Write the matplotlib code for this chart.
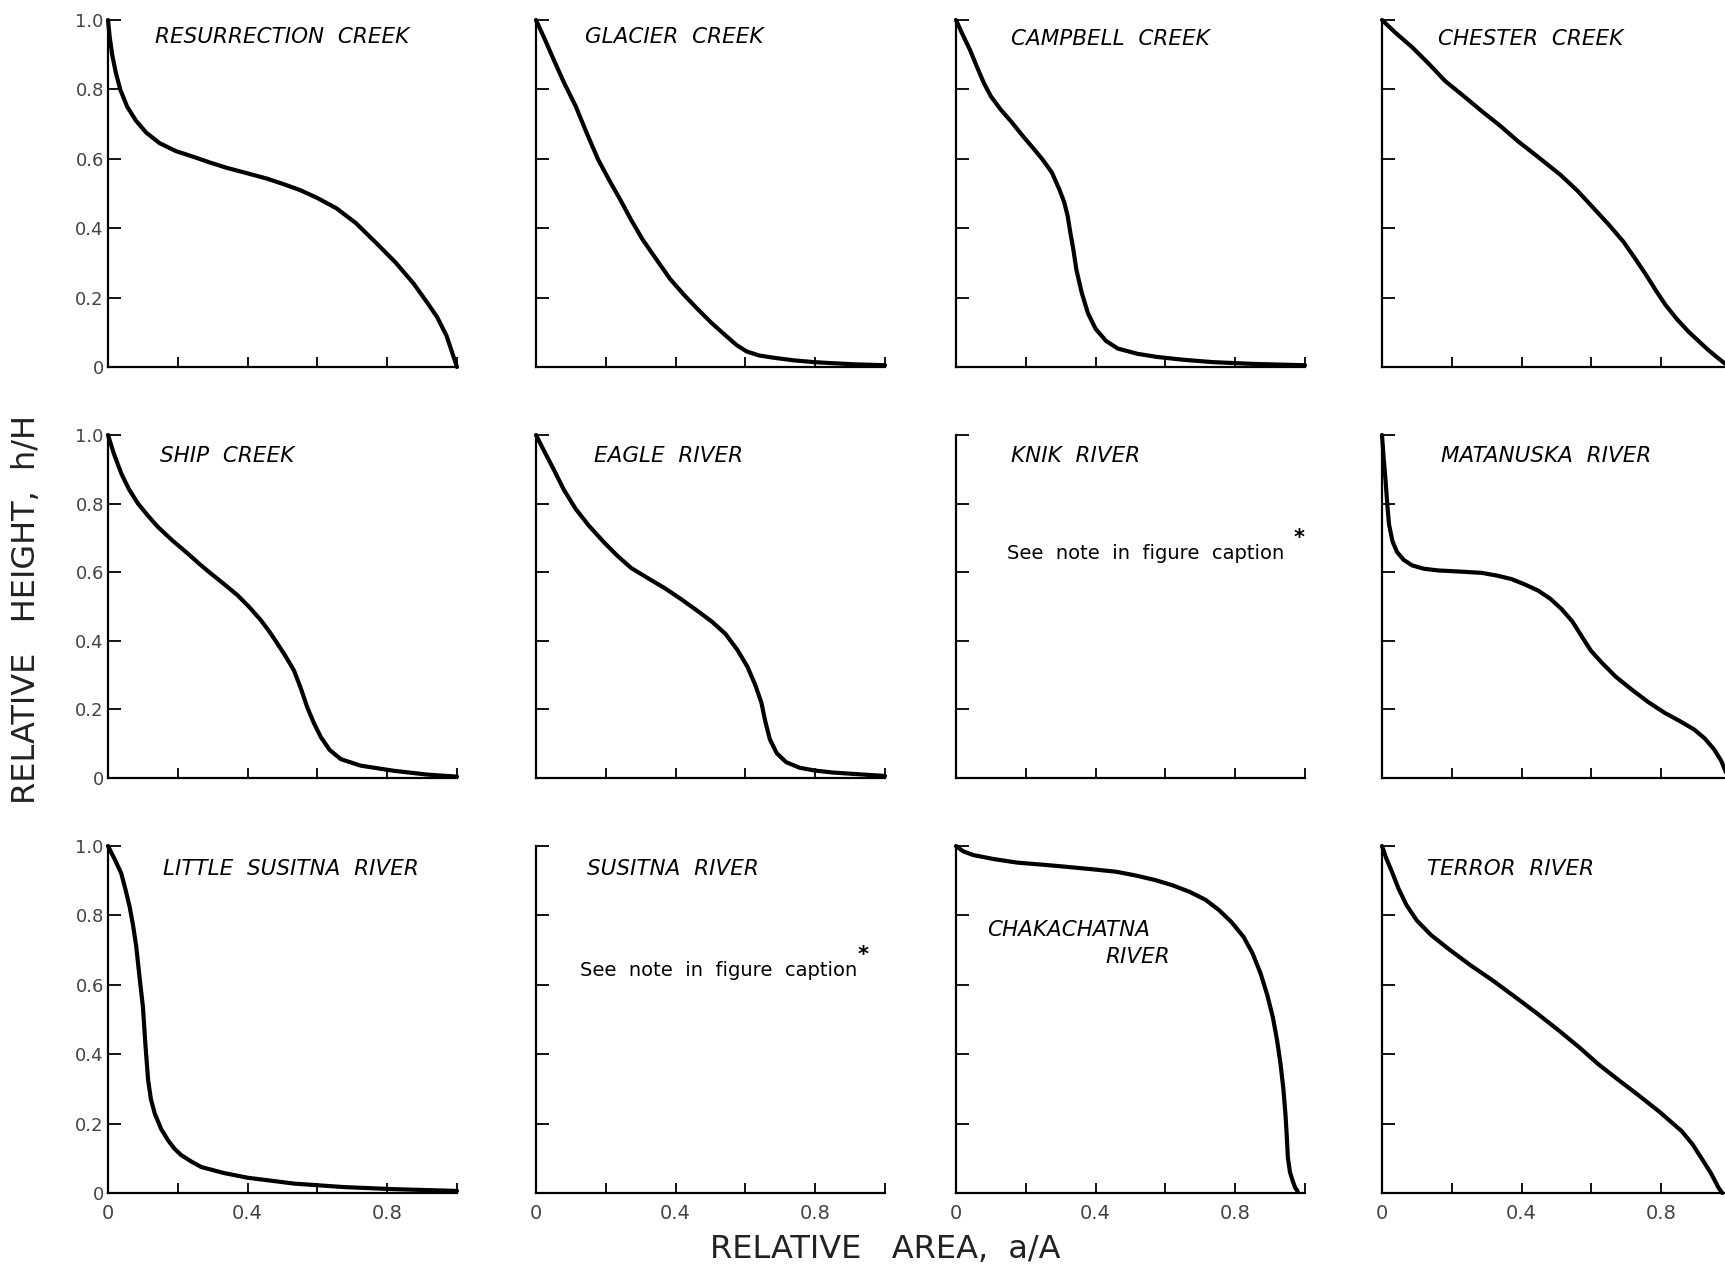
import matplotlib
matplotlib.use("Agg")
import matplotlib.pyplot as plt

# relative area a/A and relative height h/H
resurrection_x = [0, 0.005, 0.012, 0.022, 0.035, 0.055, 0.08, 0.11, 0.148, 0.195, 0.244, 0.29, 0.34, 0.4,
                  0.455, 0.5, 0.55, 0.6, 0.655, 0.71, 0.77, 0.825, 0.876, 0.915, 0.943, 0.97, 0.99, 1.0]
resurrection_y = [1.0, 0.95, 0.9, 0.85, 0.8, 0.75, 0.71, 0.675, 0.645, 0.622, 0.606, 0.59, 0.574, 0.558,
                  0.543, 0.528, 0.51, 0.487, 0.457, 0.415, 0.356, 0.3, 0.24, 0.185, 0.144, 0.09, 0.03, 0.0]

glacier_x = [0, 0.025, 0.051, 0.08, 0.114, 0.145, 0.178, 0.21, 0.241, 0.272, 0.305, 0.345, 0.384, 0.425,
             0.463, 0.503, 0.543, 0.575, 0.603, 0.64, 0.686, 0.74, 0.797, 0.85, 0.908, 1.0]
glacier_y = [1.0, 0.945, 0.885, 0.82, 0.751, 0.675, 0.598, 0.538, 0.483, 0.425, 0.368, 0.31, 0.254, 0.207,
             0.167, 0.127, 0.091, 0.063, 0.045, 0.033, 0.026, 0.019, 0.014, 0.011, 0.008, 0.005]

campbell_x = [0, 0.018, 0.04, 0.06, 0.08, 0.1, 0.128, 0.16, 0.192, 0.22, 0.248, 0.275, 0.296, 0.31, 0.32,
              0.328, 0.336, 0.345, 0.36, 0.378, 0.4, 0.43, 0.464, 0.52, 0.576, 0.65, 0.736, 0.85, 1.0]
campbell_y = [1.0, 0.96, 0.914, 0.865, 0.818, 0.78, 0.742, 0.705, 0.665, 0.632, 0.598, 0.56, 0.512, 0.475,
              0.435, 0.385, 0.34, 0.28, 0.215, 0.155, 0.11, 0.075, 0.053, 0.038, 0.029, 0.021, 0.014, 0.009, 0.005]

chester_x = [0, 0.04, 0.087, 0.135, 0.181, 0.235, 0.285, 0.34, 0.389, 0.45, 0.511, 0.56, 0.606, 0.65, 0.691,
             0.725, 0.757, 0.785, 0.813, 0.845, 0.879, 0.91, 0.936, 0.96, 0.98, 1.0]
chester_y = [1.0, 0.962, 0.921, 0.873, 0.824, 0.78, 0.738, 0.694, 0.651, 0.603, 0.554, 0.508, 0.458, 0.41,
             0.362, 0.313, 0.265, 0.22, 0.178, 0.138, 0.101, 0.072, 0.048, 0.028, 0.012, 0.0]

ship_x = [0, 0.017, 0.038, 0.06, 0.086, 0.115, 0.143, 0.185, 0.229, 0.262, 0.295, 0.333, 0.371, 0.405, 0.438,
          0.463, 0.486, 0.51, 0.533, 0.553, 0.571, 0.59, 0.61, 0.635, 0.667, 0.724, 0.819, 0.914, 1.0]
ship_y = [1.0, 0.945, 0.888, 0.842, 0.8, 0.764, 0.732, 0.692, 0.654, 0.624, 0.596, 0.565, 0.533, 0.498, 0.46,
          0.426, 0.391, 0.353, 0.313, 0.26, 0.206, 0.16, 0.119, 0.082, 0.055, 0.036, 0.021, 0.01, 0.004]

eagle_x = [0, 0.025, 0.051, 0.08, 0.114, 0.152, 0.194, 0.233, 0.273, 0.32, 0.368, 0.415, 0.463, 0.505, 0.543,
           0.578, 0.606, 0.628, 0.646, 0.657, 0.67, 0.69, 0.717, 0.755, 0.797, 0.85, 0.908, 1.0]
eagle_y = [1.0, 0.95, 0.899, 0.84, 0.784, 0.735, 0.688, 0.648, 0.612, 0.583, 0.554, 0.522, 0.487, 0.455, 0.42,
           0.372, 0.324, 0.272, 0.219, 0.165, 0.113, 0.072, 0.046, 0.03, 0.022, 0.016, 0.012, 0.006]

matanuska_x = [0, 0.005, 0.01, 0.015, 0.02, 0.03, 0.043, 0.062, 0.086, 0.12, 0.162, 0.22, 0.286, 0.33, 0.371,
               0.41, 0.448, 0.483, 0.514, 0.545, 0.571, 0.598, 0.629, 0.67, 0.714, 0.762, 0.81, 0.855, 0.895,
               0.925, 0.952, 0.972, 0.986, 0.993]
matanuska_y = [1.0, 0.93, 0.87, 0.8, 0.74, 0.69, 0.659, 0.636, 0.62, 0.61, 0.605, 0.602, 0.598, 0.59, 0.58,
               0.564, 0.546, 0.522, 0.493, 0.457, 0.415, 0.372, 0.337, 0.295, 0.259, 0.222, 0.19, 0.165, 0.141,
               0.115, 0.083, 0.05, 0.015, 0.0]

little_susitna_x = [0, 0.02, 0.038, 0.05, 0.062, 0.072, 0.081, 0.09, 0.1, 0.107, 0.115, 0.123, 0.134, 0.152,
                    0.172, 0.19, 0.21, 0.24, 0.267, 0.33, 0.4, 0.534, 0.677, 0.821, 1.0]
little_susitna_y = [1.0, 0.96, 0.921, 0.875, 0.825, 0.77, 0.71, 0.625, 0.537, 0.43, 0.325, 0.27, 0.229, 0.185,
                    0.152, 0.128, 0.109, 0.09, 0.075, 0.058, 0.044, 0.027, 0.017, 0.011, 0.006]

chakachatna_x = [0, 0.02, 0.049, 0.11, 0.176, 0.25, 0.317, 0.39, 0.458, 0.515, 0.57, 0.62, 0.669, 0.715, 0.754,
                 0.79, 0.824, 0.85, 0.873, 0.892, 0.908, 0.92, 0.93, 0.938, 0.944, 0.948, 0.951, 0.957, 0.965,
                 0.972, 0.979]
chakachatna_y = [1.0, 0.985, 0.974, 0.962, 0.952, 0.946, 0.94, 0.933, 0.926, 0.915, 0.902, 0.887, 0.868, 0.845,
                 0.815, 0.78, 0.738, 0.69, 0.632, 0.57, 0.506, 0.44, 0.371, 0.3, 0.227, 0.16, 0.101, 0.06, 0.034,
                 0.015, 0.005]

terror_x = [0, 0.012, 0.028, 0.047, 0.07, 0.1, 0.141, 0.195, 0.254, 0.318, 0.38, 0.445, 0.507, 0.565, 0.62,
            0.676, 0.732, 0.795, 0.859, 0.89, 0.915, 0.942, 0.965, 0.975]
terror_y = [1.0, 0.965, 0.927, 0.878, 0.83, 0.785, 0.743, 0.7, 0.656, 0.612, 0.566, 0.517, 0.468, 0.42, 0.371,
            0.327, 0.284, 0.234, 0.178, 0.14, 0.101, 0.058, 0.014, 0.0]

ticks = [0, 0.2, 0.4, 0.6, 0.8, 1.0]
y_labels = ["0", "0.2", "0.4", "0.6", "0.8", "1.0"]
x_labels = ["0", "", "0.4", "", "0.8", ""]

W, H = 1725, 1264
fig = plt.figure(figsize=(W / 100, H / 100), dpi=100)

col_left = [108, 536, 956, 1382]
row_top = [20, 435, 846]
row_bot = [367, 778, 1193]
pw = 349

# (row, col, title, title x, title y, x data, y data)
panels = [
    (0, 0, "RESURRECTION  CREEK", 0.135, 0.95, resurrection_x, resurrection_y),
    (0, 1, "GLACIER  CREEK", 0.14, 0.95, glacier_x, glacier_y),
    (0, 2, "CAMPBELL  CREEK", 0.157, 0.945, campbell_x, campbell_y),
    (0, 3, "CHESTER  CREEK", 0.16, 0.945, chester_x, chester_y),
    (1, 0, "SHIP  CREEK", 0.15, 0.94, ship_x, ship_y),
    (1, 1, "EAGLE  RIVER", 0.167, 0.94, eagle_x, eagle_y),
    (1, 2, "KNIK  RIVER", 0.157, 0.94, None, None),
    (1, 3, "MATANUSKA  RIVER", 0.17, 0.94, matanuska_x, matanuska_y),
    (2, 0, "LITTLE  SUSITNA  RIVER", 0.157, 0.933, little_susitna_x, little_susitna_y),
    (2, 1, "SUSITNA  RIVER", 0.145, 0.933, None, None),
    (2, 2, None, 0, 0, chakachatna_x, chakachatna_y),
    (2, 3, "TERROR  RIVER", 0.13, 0.933, terror_x, terror_y),
]

title_size = 15.5

for r, c, title, tx, ty, xs, ys in panels:
    t, b = row_top[r], row_bot[r]
    ax = fig.add_axes([col_left[c] / W, 1 - b / H, pw / W, (b - t) / H])
    ax.set_xlim(0, 1)
    ax.set_ylim(0, 1)
    for s in ["top", "right"]:
        ax.spines[s].set_visible(False)
    for s in ["left", "bottom"]:
        ax.spines[s].set_linewidth(1.6)
    ax.set_xticks(ticks)
    ax.set_yticks(ticks)
    ax.tick_params(direction="in", width=1.3, colors="black", labelcolor="#444444")
    ax.tick_params(axis="y", length=9, pad=3, labelsize=13)
    ax.tick_params(axis="x", length=7, pad=8, labelsize=14)
    if c == 0:
        ax.set_yticklabels(y_labels)
    else:
        ax.set_yticklabels([])
    if r == 2:
        ax.set_xticklabels(x_labels)
    else:
        ax.set_xticklabels([])

    if xs is not None:
        ax.plot(xs, ys, color="black", lw=3, clip_on=False,
                solid_capstyle="round", solid_joinstyle="round")
    else:
        if c == 2:
            nx, ny, sx, sy = 0.147, 0.655, 0.968, 0.7
        else:
            nx, ny, sx, sy = 0.126, 0.642, 0.92, 0.685
        ax.text(nx, ny, "See  note  in  figure  caption",
                transform=ax.transAxes, fontsize=14, va="center", ha="left")
        ax.text(sx, sy, "*", transform=ax.transAxes,
                fontsize=15, fontweight="bold", va="center", ha="left")

    if title is not None:
        ax.text(tx, ty, title, transform=ax.transAxes, fontsize=title_size,
                style="italic", va="center", ha="left")
    else:
        ax.text(0.09, 0.757, "CHAKACHATNA", transform=ax.transAxes, fontsize=title_size,
                style="italic", va="center", ha="left")
        ax.text(0.615, 0.68, "RIVER", transform=ax.transAxes, fontsize=title_size,
                style="italic", va="center", ha="right")

fig.text(27 / W, 1 - 610 / H, "RELATIVE   HEIGHT,  h/H", rotation=90,
         fontsize=23, color="#222222", va="center", ha="center")
fig.text(885 / W, 1 - 1249 / H, "RELATIVE   AREA,  a/A",
         fontsize=23, color="#222222", va="center", ha="center")

fig.savefig("out.png", dpi=100)
